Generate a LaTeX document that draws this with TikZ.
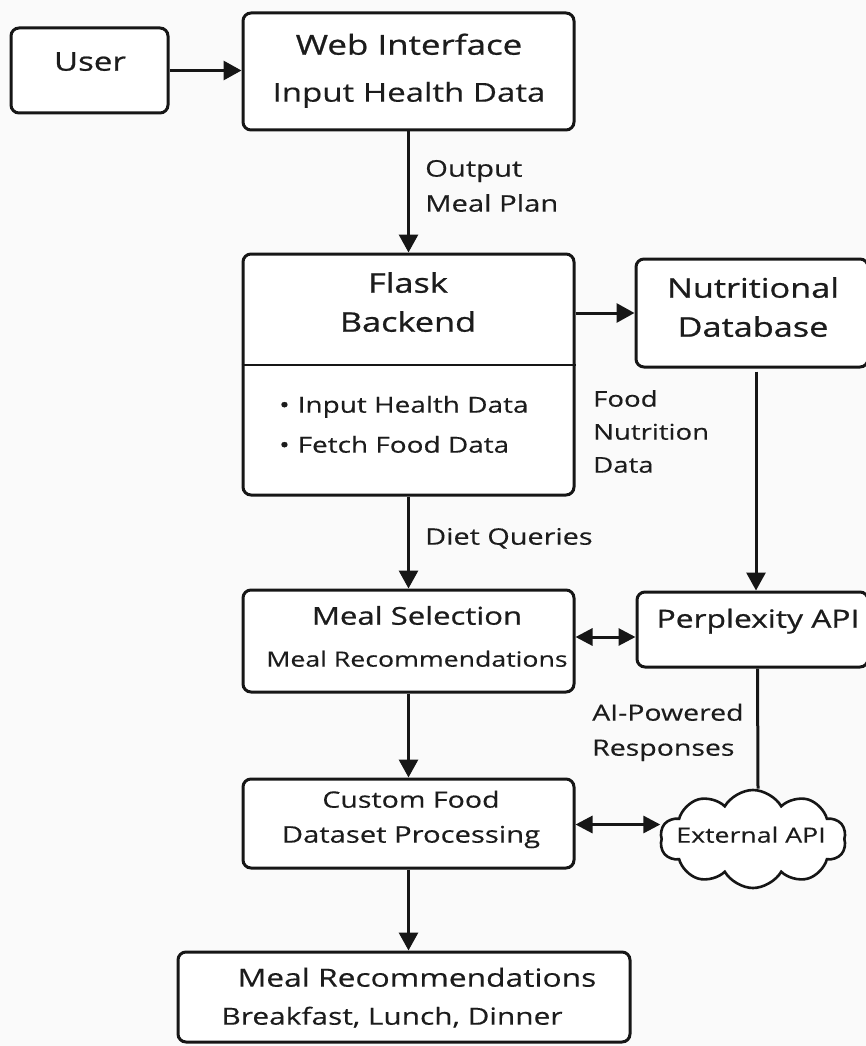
\documentclass[tikz,border=0pt]{standalone}
\usepackage{fontspec}
\setmainfont{Open Sans}[FakeStretch=1.27,FakeBold=0.3]
\newfontfamily\headfont{Open Sans}[FakeStretch=1.27,FakeBold=0.8]
\usetikzlibrary{arrows.meta,shapes.symbols}
\definecolor{ink}{HTML}{161616}
\definecolor{txt}{HTML}{1C1C1C}
\definecolor{bg}{HTML}{FAFAFA}
\begin{document}
\begin{tikzpicture}[x=1pt,y=-1pt,
  box/.style={draw=ink, line width=3pt, rounded corners=8pt, fill=white, inner sep=0pt},
  t/.style={text=txt, inner sep=0pt, anchor=mid},
  tl/.style={text=txt, inner sep=0pt, anchor=mid west},
  arr/.style={draw=ink, line width=3pt, -{Triangle[length=18pt,width=19pt]}},
  darr/.style={draw=ink, line width=3pt, {Triangle[length=17pt,width=17pt]}-{Triangle[length=17pt,width=17pt]}},
  ln/.style={draw=ink, line width=3pt}
]
\useasboundingbox (0,0) rectangle (866,1046);
\fill[bg] (0,0) rectangle (866,1046);

% boxes
\node[box, minimum width=157pt, minimum height=85pt] (user) at (89.5,70.5) {};
\node[box, minimum width=331pt, minimum height=117pt] (web) at (408.5,71.5) {};
\node[box, minimum width=331pt, minimum height=241pt] (flask) at (408.5,374.5) {};
\node[box, minimum width=232pt, minimum height=108pt] (nutri) at (752,313) {};
\node[box, minimum width=231pt, minimum height=75pt] (perp) at (752.5,629.5) {};
\node[box, minimum width=331pt, minimum height=102pt] (meal) at (408.5,641) {};
\node[box, minimum width=331pt, minimum height=89pt] (custom) at (408.5,823.5) {};
\node[box, minimum width=452pt, minimum height=90pt] (bot) at (404,997) {};
\node[draw=ink, line width=2.6pt, fill=white, cloud, cloud puffs=10, cloud puff arc=120,
      cloud ignores aspect, minimum width=186pt, minimum height=98pt, inner sep=0pt] (cloud) at (753,839) {};

% divider in flask box
\draw[ln, line width=2.4pt] (flask.west |- 0,365) -- (flask.east |- 0,365);

% box texts
\node[t] (userT) at (90,68) {\headfont\fontsize{26}{30}\selectfont User};
\node[t] (webT1) at (409,52) {\headfont\fontsize{27.5}{30}\selectfont Web Interface};
\node[t] (webT2) at (409,99) {\fontsize{26}{30}\selectfont Input Health Data};
\node[t] (flaskT1) at (408,290) {\headfont\fontsize{27}{30}\selectfont Flask};
\node[t] (flaskT2) at (408,329) {\headfont\fontsize{27}{30}\selectfont Backend};
\node[tl] (flaskB1) at (279,410) {\fontsize{22}{26}\selectfont •\hspace{8pt}Input Health Data};
\node[tl] (flaskB2) at (279,450) {\fontsize{22}{26}\selectfont •\hspace{8pt}Fetch Food Data};
\node[t] (nutriT1) at (753,295) {\headfont\fontsize{27}{30}\selectfont Nutritional};
\node[t] (nutriT2) at (753,334) {\headfont\fontsize{27}{30}\selectfont Database};
\node[t] (perpT) at (758,625) {\headfont\fontsize{25}{30}\selectfont Perplexity API};
\node[t] (mealT1) at (417,622) {\headfont\fontsize{24.5}{30}\selectfont Meal Selection};
\node[t] (mealT2) at (417,664) {\fontsize{21}{26}\selectfont Meal Recommendations};
\node[t] (custT1) at (411,805) {\fontsize{22.5}{26}\selectfont Custom Food};
\node[t] (custT2) at (411,840) {\fontsize{23}{26}\selectfont Dataset Processing};
\node[t] (cloudT) at (751,840) {\fontsize{21}{26}\selectfont External API};
\node[t] (botT1) at (417,984) {\fontsize{25}{30}\selectfont Meal Recommendations};
\node[t] (botT2) at (392,1022) {\fontsize{23.5}{28}\selectfont Breakfast, Lunch, Dinner};

% connectors
\draw[arr] (user.east) -- (user.east -| web.west);
\draw[arr] (web.south) -- (flask.north);
\draw[arr] (flask.east |- nutri.west) -- (nutri.west);
\draw[arr, shorten <=3pt] ([xshift=4pt]nutri.south) -- ([xshift=4pt]nutri.south |- perp.north);
\draw[arr] (flask.south) -- (meal.north);
\draw[darr] ([yshift=4pt]meal.east) -- ([yshift=4pt]meal.east -| perp.west);
\draw[arr] (meal.south) -- (custom.north);
\draw[darr] ([yshift=-1pt]custom.east) -- ([yshift=-1pt]custom.east -| cloud.west);
\draw[ln] ([xshift=5pt]perp.south) -- ([xshift=5pt]cloud.north);
\draw[arr] (custom.south) -- (custom.south |- bot.north);

% connector labels
\node[tl] (outL1) at (425,174) {\fontsize{23}{28}\selectfont Output};
\node[tl] (outL2) at (425,209) {\fontsize{23}{28}\selectfont Meal Plan};
\node[tl] (foodL1) at (593,404) {\fontsize{21.7}{26}\selectfont Food};
\node[tl] (foodL2) at (593,437) {\fontsize{21.7}{26}\selectfont Nutrition};
\node[tl] (foodL3) at (593,470) {\fontsize{21.7}{26}\selectfont Data};
\node[tl] (dietL) at (425,542) {\fontsize{22.7}{27}\selectfont Diet Queries};
\node[tl] (aiL1) at (592,718) {\fontsize{22.4}{27}\selectfont AI-Powered};
\node[tl] (aiL2) at (592,753) {\fontsize{22.4}{27}\selectfont Responses};
\end{tikzpicture}
\end{document}
